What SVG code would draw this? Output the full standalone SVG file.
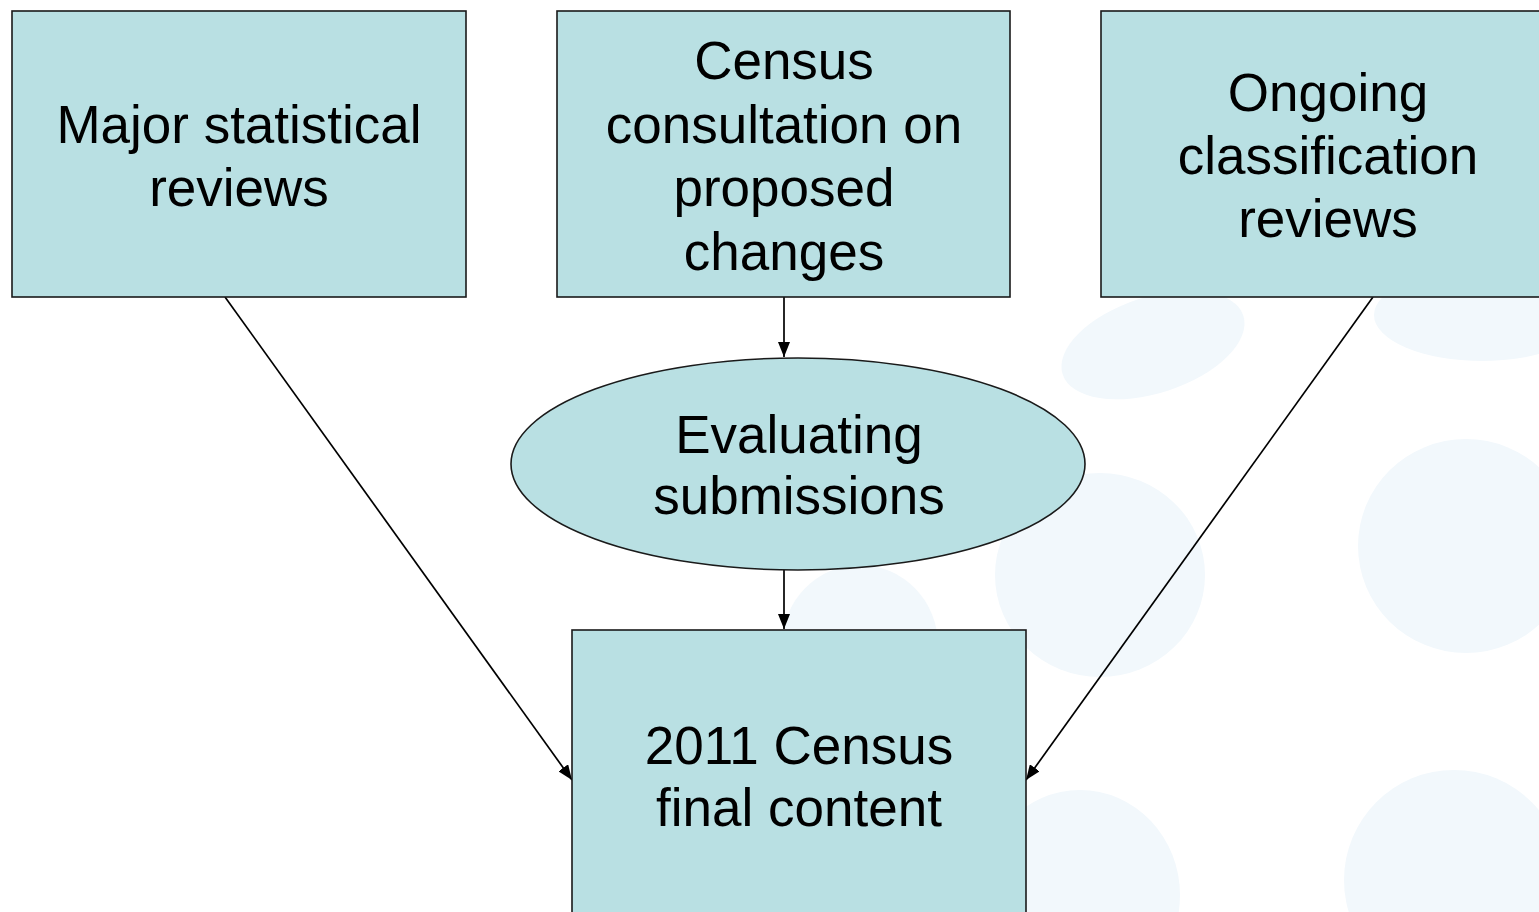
<svg xmlns="http://www.w3.org/2000/svg" width="1539" height="912" viewBox="0 0 1539 912">
<defs>
<style>
.node{fill:#B9E0E3;stroke:#1a1a1a;stroke-width:1.6}
.lbl{font-family:"Liberation Sans",Arial,sans-serif;font-size:53px;fill:#000;text-anchor:middle}
.blob{fill:#F2F8FC}
.edge{stroke:#000;stroke-width:1.7;fill:none;marker-end:url(#arr)}
</style>
<marker id="arr" viewBox="0 0 15 12" refX="15" refY="6" markerWidth="15" markerHeight="12" markerUnits="userSpaceOnUse" orient="auto">
<path d="M0,0 L15,6 L0,12 Z" fill="#000"/>
</marker>
</defs>
<rect width="1539" height="912" fill="#fff"/>
<g id="background">
<ellipse class="blob" cx="1153" cy="345" rx="95" ry="48" transform="rotate(-18 1153 345)"/>
<ellipse class="blob" cx="1482" cy="315" rx="108" ry="46"/>
<ellipse class="blob" cx="1100" cy="575" rx="105" ry="102"/>
<ellipse class="blob" cx="1466" cy="546" rx="108" ry="107"/>
<ellipse class="blob" cx="1080" cy="895" rx="100" ry="105"/>
<ellipse class="blob" cx="1454" cy="880" rx="110" ry="110"/>
<ellipse class="blob" cx="860" cy="645" rx="78" ry="80"/>
</g>
<g id="connectors">
<line class="edge" x1="784" y1="297" x2="784" y2="357"/>
<line class="edge" x1="784" y1="570" x2="784" y2="629"/>
<line class="edge" x1="225" y1="297" x2="572" y2="780"/>
<line class="edge" x1="1373" y1="297" x2="1026" y2="780"/>
</g>
<g id="n1">
<rect class="node" x="12" y="11" width="454" height="286"/>
<text class="lbl" x="239" y="143">Major statistical</text>
<text class="lbl" x="239" y="206">reviews</text>
</g>
<g id="n2">
<rect class="node" x="557" y="11" width="453" height="286"/>
<text class="lbl" x="784" y="79">Census</text>
<text class="lbl" x="784" y="143">consultation on</text>
<text class="lbl" x="784" y="206">proposed</text>
<text class="lbl" x="784" y="270">changes</text>
</g>
<g id="n3">
<rect class="node" x="1101" y="11" width="454" height="286"/>
<text class="lbl" x="1328" y="111">Ongoing</text>
<text class="lbl" x="1328" y="174">classification</text>
<text class="lbl" x="1328" y="237">reviews</text>
</g>
<g id="n4">
<ellipse class="node" cx="798" cy="464" rx="287" ry="106"/>
<text class="lbl" x="799" y="453">Evaluating</text>
<text class="lbl" x="799" y="514">submissions</text>
</g>
<g id="n5">
<rect class="node" x="572" y="630" width="454" height="300"/>
<text class="lbl" x="799" y="764">2011 Census</text>
<text class="lbl" x="799" y="826">final content</text>
</g>
</svg>
